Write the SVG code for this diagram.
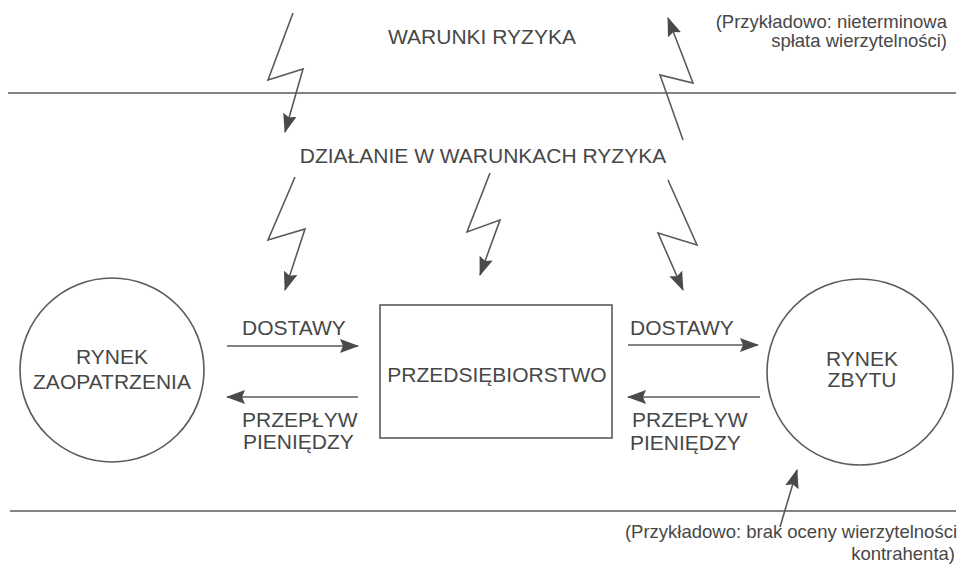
<svg xmlns="http://www.w3.org/2000/svg" width="959" height="575" viewBox="0 0 959 575">
<style>
  .ln{fill:none;stroke:#5a5a5a;stroke-width:1.6;stroke-linejoin:miter}
  .t{font-family:"Liberation Sans",Arial,sans-serif;font-size:21px;fill:#474747}
  .s{font-family:"Liberation Sans",Arial,sans-serif;font-size:18.5px;fill:#474747}
  .c{text-anchor:middle}
  .e{text-anchor:end}
</style>
<defs>
  <marker id="ah" markerUnits="userSpaceOnUse" markerWidth="19" markerHeight="15" refX="18" refY="7" orient="auto">
    <path d="M0,0 L19,7 L0,14 L3,7 z" fill="#4a4a4a"/>
  </marker>
</defs>
<rect width="959" height="575" fill="#ffffff"/>
<g id="bands">
  <line class="ln" x1="8" y1="93" x2="956" y2="93"/>
  <line class="ln" x1="10" y1="511" x2="956" y2="511"/>
  <text class="t c" x="482" y="44">WARUNKI RYZYKA</text>
  <text class="t c" x="483" y="163">DZIAŁANIE W WARUNKACH RYZYKA</text>
  <text class="s e" x="947" y="28">(Przykładowo: nieterminowa</text>
  <text class="s e" x="947" y="47">spłata wierzytelności)</text>
  <text class="s e" x="957" y="538">(Przykładowo: brak oceny wierzytelności</text>
  <text class="s e" x="955" y="560">kontrahenta)</text>
</g>
<g id="rynek-zaopatrzenia">
  <circle class="ln" cx="112" cy="370" r="92"/>
  <text class="t c" x="112" y="364">RYNEK</text>
  <text class="t c" x="112" y="389">ZAOPATRZENIA</text>
</g>
<g id="przedsiebiorstwo">
  <rect class="ln" x="380" y="305" width="232" height="133"/>
  <text class="t c" x="497" y="382">PRZEDSIĘBIORSTWO</text>
</g>
<g id="rynek-zbytu">
  <circle class="ln" cx="860" cy="372" r="93"/>
  <text class="t c" x="862" y="366">RYNEK</text>
  <text class="t c" x="862" y="387">ZBYTU</text>
</g>
<g id="connectors">
  <path class="ln" d="M293,13 L268,80 L303,69 L285,132" marker-end="url(#ah)"/>
  <path class="ln" d="M683,140 L660,75 L693,83 L668,18" marker-end="url(#ah)"/>
  <path class="ln" d="M295,177 L268,240 L305,229 L285,290" marker-end="url(#ah)"/>
  <path class="ln" d="M490,173 L467,232 L500,220 L480,275" marker-end="url(#ah)"/>
  <path class="ln" d="M668,180 L697,245 L658,233 L683,290" marker-end="url(#ah)"/>
  <path class="ln" d="M780,527 L797,470" marker-end="url(#ah)"/>
  <line class="ln" x1="227" y1="346" x2="358" y2="346" marker-end="url(#ah)"/>
  <line class="ln" x1="358" y1="397" x2="227" y2="397" marker-end="url(#ah)"/>
  <line class="ln" x1="628" y1="345" x2="758" y2="345" marker-end="url(#ah)"/>
  <line class="ln" x1="760" y1="397" x2="628" y2="397" marker-end="url(#ah)"/>
  <text class="t" x="242" y="335">DOSTAWY</text>
  <text class="t" x="242" y="427">PRZEPŁYW</text>
  <text class="t" x="243" y="449">PIENIĘDZY</text>
  <text class="t" x="630" y="335">DOSTAWY</text>
  <text class="t" x="632" y="427">PRZEPŁYW</text>
  <text class="t" x="630" y="450">PIENIĘDZY</text>
</g>
</svg>
